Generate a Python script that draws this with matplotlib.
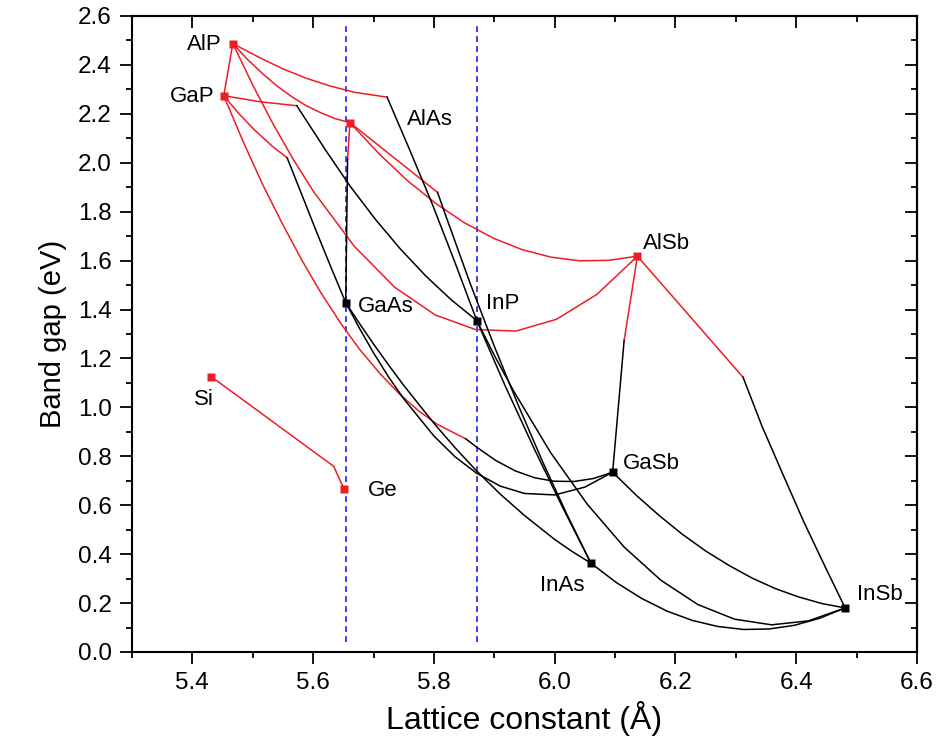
import matplotlib.pyplot as plt
from matplotlib.ticker import MultipleLocator

plt.rcParams['font.family'] = ['Liberation Sans', 'DejaVu Sans']

RED = '#ee1c25'
BLUE = '#1a1aff'

# ----------------------------------------------------------------------
# binaries: lattice constant (Å) and band gap (eV)
# ----------------------------------------------------------------------
names   = ['AlP', 'GaP', 'AlAs', 'GaAs', 'InP', 'AlSb', 'GaSb', 'InAs', 'InSb', 'Si', 'Ge']
lattice = [5.467, 5.452, 5.661, 5.654, 5.871, 6.137, 6.096, 6.060, 6.481, 5.431, 5.651]
gap     = [2.487, 2.274, 2.164, 1.428, 1.355, 1.618, 0.735, 0.363, 0.180, 1.126, 0.667]
direct  = [False, False, False, True, True, False, True, True, True, False, False]

# ----------------------------------------------------------------------
# ternary curves (a, Eg); *_ind = indirect gap part, *_dir = direct part
# ----------------------------------------------------------------------
AlGaP_ind = [(5.467, 2.487), (5.452, 2.274)]
AlInP_ind = [(5.467, 2.487), (5.508, 2.434), (5.548, 2.386), (5.588, 2.346),
             (5.629, 2.313), (5.669, 2.288), (5.7225, 2.268)]
AlInP_dir = [(5.7225, 2.268), (5.7595, 2.055), (5.797, 1.833), (5.834, 1.598), (5.871, 1.355)]
AlAsP_ind = [(5.467, 2.487), (5.491, 2.423), (5.516, 2.365), (5.540, 2.314), (5.564, 2.271),
             (5.588, 2.234), (5.613, 2.204), (5.637, 2.180), (5.661, 2.164)]
AlPSb_ind = [(5.467, 2.487), (5.5005, 2.315), (5.534, 2.157), (5.5675, 2.012), (5.601, 1.881),
             (5.668, 1.659), (5.735, 1.491), (5.802, 1.378), (5.869, 1.318), (5.936, 1.312),
             (6.003, 1.360), (6.070, 1.462), (6.137, 1.618)]
AlAsSb_ind = [(5.661, 2.164), (5.709, 2.037), (5.756, 1.927), (5.804, 1.832), (5.851, 1.754),
              (5.899, 1.691), (5.947, 1.644), (5.994, 1.614), (6.042, 1.599), (6.089, 1.601),
              (6.137, 1.618)]
AlInAs_ind = [(5.661, 2.164), (5.806, 1.879)]
AlInAs_dir = [(5.806, 1.879), (5.8206, 1.777), (5.860, 1.507), (5.900, 1.250), (5.940, 1.007),
              (5.980, 0.778), (6.020, 0.564), (6.060, 0.363)]
AlGaAs_ind = [(5.661, 2.164), (5.657, 2.015)]
AlGaAs_dir = [(5.657, 2.015), (5.654, 1.428)]
GaInP_ind = [(5.452, 2.274), (5.513, 2.249), (5.573, 2.233)]
GaInP_dir = [(5.573, 2.233), (5.620, 2.054), (5.661, 1.905), (5.703, 1.769), (5.745, 1.646),
             (5.787, 1.536), (5.829, 1.439), (5.871, 1.355)]
GaAsP_ind = [(5.452, 2.274), (5.477, 2.201), (5.5025, 2.135), (5.533, 2.066), (5.557, 2.020)]
GaAsP_dir = [(5.557, 2.020), (5.581, 1.871), (5.6055, 1.718), (5.630, 1.570), (5.654, 1.428)]
GaPSb_ind = [(5.452, 2.274), (5.484, 2.087), (5.516, 1.913), (5.549, 1.751), (5.581, 1.603),
             (5.613, 1.468), (5.645, 1.346), (5.677, 1.237), (5.710, 1.140), (5.742, 1.057),
             (5.774, 0.987), (5.806, 0.930), (5.853, 0.871)]
GaPSb_dir = [(5.853, 0.871), (5.871, 0.837), (5.903, 0.782), (5.935, 0.740), (5.967, 0.712),
             (5.999, 0.698), (6.032, 0.697), (6.064, 0.709), (6.096, 0.735)]
GaAsSb_dir = [(5.654, 1.428), (5.677, 1.322), (5.700, 1.223), (5.725, 1.124), (5.750, 1.035),
              (5.800, 0.883), (5.835, 0.798), (5.870, 0.732), (5.910, 0.678), (5.950, 0.648),
              (6.000, 0.642), (6.050, 0.674), (6.096, 0.735)]
GaInAs_dir = [(5.654, 1.428), (5.677, 1.342), (5.700, 1.259), (5.725, 1.173), (5.750, 1.090),
              (5.800, 0.935), (5.835, 0.835), (5.870, 0.742), (5.910, 0.645), (5.950, 0.558),
              (6.000, 0.460), (6.030, 0.409), (6.060, 0.363)]
InAsP_dir = [(5.871, 1.355), (5.918, 1.088), (5.9655, 0.834), (6.013, 0.592), (6.060, 0.363)]
InPSb_dir = [(5.871, 1.355), (5.9015, 1.206), (5.932, 1.067), (5.993, 0.816), (6.054, 0.604),
             (6.115, 0.429), (6.176, 0.293), (6.237, 0.194), (6.298, 0.134), (6.359, 0.111),
             (6.420, 0.127), (6.481, 0.180)]
InAsSb_dir = [(6.060, 0.363), (6.102, 0.284), (6.144, 0.219), (6.186, 0.167), (6.228, 0.129),
              (6.2705, 0.104), (6.313, 0.092), (6.355, 0.094), (6.397, 0.109), (6.439, 0.138),
              (6.481, 0.180)]
GaInSb_dir = [(6.096, 0.735), (6.1345, 0.642), (6.173, 0.558), (6.2115, 0.481), (6.250, 0.413),
              (6.2885, 0.354), (6.327, 0.302), (6.3655, 0.259), (6.404, 0.225), (6.4425, 0.198),
              (6.481, 0.180)]
AlGaSb_ind = [(6.137, 1.618), (6.115, 1.273)]
AlGaSb_dir = [(6.115, 1.273), (6.096, 0.735)]
AlInSb_ind = [(6.137, 1.618), (6.312, 1.123)]
AlInSb_dir = [(6.312, 1.123), (6.343, 0.925), (6.378, 0.726), (6.412, 0.535), (6.447, 0.353),
              (6.481, 0.180)]
SiGe_ind = [(5.431, 1.126), (5.634, 0.759), (5.651, 0.667)]

indirect_curves = [AlGaP_ind, AlInP_ind, AlAsP_ind, AlPSb_ind, AlAsSb_ind, AlInAs_ind,
                   AlGaAs_ind, GaInP_ind, GaAsP_ind, GaPSb_ind, AlGaSb_ind, AlInSb_ind, SiGe_ind]
direct_curves = [AlInP_dir, AlInAs_dir, AlGaAs_dir, GaInP_dir, GaAsP_dir, GaPSb_dir,
                 GaAsSb_dir, GaInAs_dir, InAsP_dir, InPSb_dir, InAsSb_dir, GaInSb_dir,
                 AlGaSb_dir, AlInSb_dir]

# ----------------------------------------------------------------------
# Figure
# ----------------------------------------------------------------------
fig = plt.figure(figsize=(9.38, 7.5), dpi=100)
ax = fig.add_axes([0.1407, 0.1307, 0.9776 - 0.1407, 0.9787 - 0.1307])

lw = 1.1
for c in indirect_curves:
    ax.plot([p[0] for p in c], [p[1] for p in c], '-', color=RED, lw=lw, zorder=3)
for c in direct_curves:
    ax.plot([p[0] for p in c], [p[1] for p in c], '-', color='black', lw=lw, zorder=3)

# dashed guides at GaAs and InP lattice constants
ax.vlines([lattice[names.index('GaAs')], lattice[names.index('InP')]], 0.04, 2.575,
          colors=BLUE, linestyles=(0, (3.5, 2.5)), lw=1.2, zorder=2)

for n, a, e, d in zip(names, lattice, gap, direct):
    ax.plot(a, e, 's', color='black' if d else RED, ms=6, mec='none', zorder=5)

# label anchor points (data units)
label_pos = {'AlP': (5.449, 2.485, 'right'), 'GaP': (5.437, 2.270, 'right'),
             'AlAs': (5.755, 2.176, 'left'), 'GaAs': (5.674, 1.412, 'left'),
             'InP': (5.887, 1.426, 'left'), 'AlSb': (6.146, 1.668, 'left'),
             'GaSb': (6.113, 0.769, 'left'), 'InAs': (5.975, 0.271, 'left'),
             'InSb': (6.501, 0.237, 'left'), 'Si': (5.403, 1.031, 'left'),
             'Ge': (5.691, 0.660, 'left')}
for n in names:
    x, y, ha = label_pos[n]
    ax.text(x, y, n, ha=ha, va='center', fontsize=16)

ax.set_xlim(5.3, 6.6)
ax.set_ylim(0.0, 2.6)
ax.xaxis.set_major_locator(MultipleLocator(0.2))
ax.xaxis.set_minor_locator(MultipleLocator(0.1))
ax.yaxis.set_major_locator(MultipleLocator(0.2))
ax.yaxis.set_minor_locator(MultipleLocator(0.1))
ax.xaxis.set_major_formatter(plt.FormatStrFormatter('%.1f'))
ax.yaxis.set_major_formatter(plt.FormatStrFormatter('%.1f'))
ax.tick_params(which='major', direction='out', length=8.5, width=1.3, labelsize=17.5, pad=6)
ax.tick_params(which='minor', direction='out', length=4, width=1.3)
for s in ax.spines.values():
    s.set_linewidth(1.5)

top = ax.secondary_xaxis('top')
top.xaxis.set_major_locator(MultipleLocator(0.2))
top.xaxis.set_minor_locator(MultipleLocator(0.1))
top.tick_params(which='major', direction='in', length=8.5, width=1.3, labeltop=False)
top.tick_params(which='minor', direction='in', length=4, width=1.3)
right = ax.secondary_yaxis('right')
right.yaxis.set_major_locator(MultipleLocator(0.2))
right.yaxis.set_minor_locator(MultipleLocator(0.1))
right.tick_params(which='major', direction='in', length=8.5, width=1.3, labelright=False)
right.tick_params(which='minor', direction='in', length=4, width=1.3)
for sa in (top, right):
    for s in sa.spines.values():
        s.set_linewidth(1.5)

ax.set_xlabel('Lattice constant (Å)', fontsize=23, labelpad=5)
ax.set_ylabel('Band gap (eV)', fontsize=21, labelpad=8)

fig.savefig('out.png', dpi=100)
